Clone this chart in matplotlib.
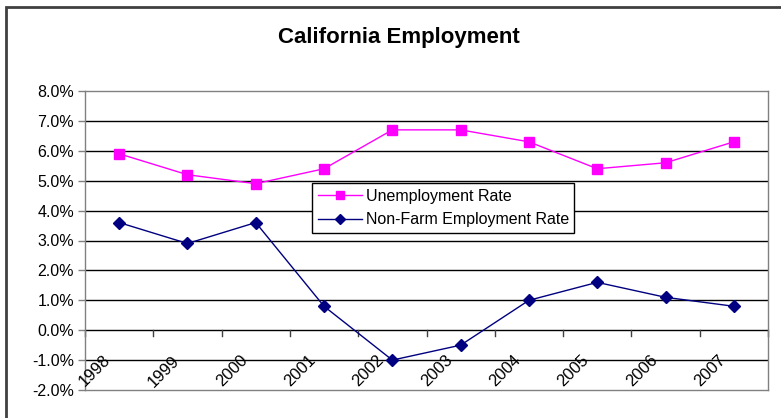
import matplotlib
matplotlib.use("Agg")
import matplotlib.pyplot as plt
from matplotlib.patches import Rectangle

years = ["1998", "1999", "2000", "2001", "2002", "2003", "2004", "2005", "2006", "2007"]
unemployment = [5.9, 5.2, 4.9, 5.4, 6.7, 6.7, 6.3, 5.4, 5.6, 6.3]
nonfarm = [3.6, 2.9, 3.6, 0.8, -1.0, -0.5, 1.0, 1.6, 1.1, 0.8]
y_ticks = [-2, -1, 0, 1, 2, 3, 4, 5, 6, 7, 8]

plt.rcParams["font.family"] = ["Liberation Sans", "DejaVu Sans"]

W, H = 781, 418
fig = plt.figure(figsize=(W / 100, H / 100), dpi=100)

# outer chart frame (top and left edges visible)
fig.patches.append(Rectangle((6 / W, -0.1), 1.2, 1 - 7 / H + 0.1,
                             transform=fig.transFigure, fill=False,
                             edgecolor="#404040", linewidth=2))

ax_l, ax_r, ax_t, ax_b = 85, 768, 91, 390
ax = fig.add_axes([ax_l / W, 1 - ax_b / H, (ax_r - ax_l) / W, (ax_b - ax_t) / H])

n = len(years)
x = [i + 0.5 for i in range(n)]
ax.set_xlim(0, n)
ax.set_ylim(-2, 8)

for v in y_ticks[1:-1]:
    ax.axhline(v, color="black", linewidth=1, zorder=1)

for s in ax.spines.values():
    s.set_color("#808080")
    s.set_linewidth(1)

ax.set_yticks(y_ticks)
ax.set_yticklabels([f"{v:.1f}%" for v in y_ticks], fontsize=11.5)
ax.tick_params(axis="y", length=5, width=1, color="#808080", pad=3)

# category axis crosses at 0%: boundary tick marks below that line
ax.set_xticks([])
for i in range(n + 1):
    ax.plot([i, i], [0, -0.2], color="#404040", linewidth=1, zorder=2,
            clip_on=False)

for xi, lab in zip(x, years):
    ax.text(xi - 0.08, -0.75, lab, rotation=45, ha="right", va="top",
            fontsize=12, zorder=3)

ax.plot(x, unemployment, color="#FF00FF", linewidth=1, marker="s",
        markersize=7, markerfacecolor="#FF00FF", markeredgecolor="#FF00FF",
        zorder=4, label="Unemployment Rate")
ax.plot(x, nonfarm, color="#000080", linewidth=1, marker="D",
        markersize=6.5, markerfacecolor="#000080", markeredgecolor="#000080",
        zorder=4, label="Non-Farm Employment Rate")

leg = ax.legend(loc="upper left", bbox_to_anchor=(312 / W, 1 - 183 / H),
                bbox_transform=fig.transFigure,
                fontsize=11.5, frameon=True, fancybox=False, framealpha=1,
                edgecolor="black", handlelength=2.8, handletextpad=0.2,
                borderpad=0.35, labelspacing=0.55, borderaxespad=0,
                markerscale=0.85)
leg.get_frame().set_linewidth(1)
leg.set_zorder(5)

fig.text(399 / W, 1 - 38 / H, "California Employment", ha="center",
         va="center", fontsize=16, fontweight="bold")

fig.savefig("out.png", dpi=100)
